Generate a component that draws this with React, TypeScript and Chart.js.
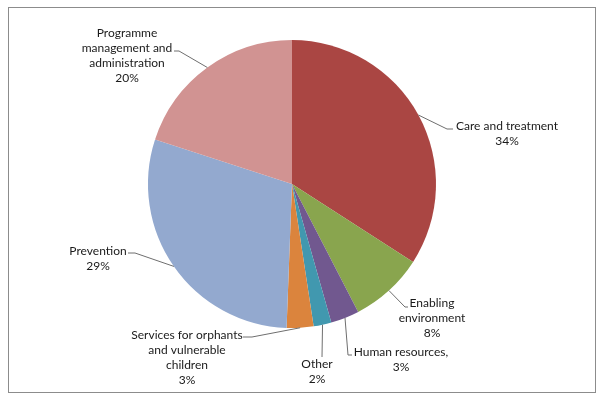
import React, { useEffect, useRef } from "react";
import { Chart, registerables } from "chart.js";
Chart.register(...registerables);

const categories = [
  "Care and treatment",
  "Enabling environment",
  "Human resources,",
  "Other",
  "Services for orphants and vulnerable children",
  "Prevention",
  "Programme management and administration",
];
const values = [34.1, 8.3, 3.2, 2.0, 3.0, 29.4, 20.0];
const colors = ["#AA4643", "#89A54E", "#71588F", "#4198AF", "#DB843D", "#93A9CF", "#D19392"];
const labelLines = [
  ["Care and treatment"],
  ["Enabling", "environment"],
  ["Human resources,"],
  ["Other"],
  ["Services for orphants", "and vulnerable", "children"],
  ["Prevention"],
  ["Programme", "management and", "administration"],
];

// label layout (canvas px): text center x, first line y, leader points after the arc anchor
const labelLayout = [
  { x: 507, y: 126, pts: [[447, 129], [453, 129]] },
  { x: 432, y: 303, pts: [[405, 307], [408, 307]] },
  { x: 401, y: 352, pts: [[348, 355], [352, 355]] },
  { x: 317, y: 364, pts: [[322, 357]] },
  { x: 187, y: 335, pts: [[252, 337], [243, 337]] },
  { x: 98, y: 251, pts: [[135, 253], [128, 253]] },
  { x: 127, y: 33, pts: [[179, 51], [174, 51]] },
];

const FONT = "12px Lato, 'Open Sans', sans-serif";
const LINE_H = 15;

const labelPlugin = {
  id: "pieLabels",
  afterDraw(chart: any) {
    const ctx = chart.ctx;
    const meta = chart.getDatasetMeta(0);
    ctx.save();
    // frame
    ctx.strokeStyle = "#8c8c8c";
    ctx.lineWidth = 1;
    ctx.strokeRect(8.5, 7.5, 587, 385);
    meta.data.forEach((arc: any, i: number) => {
      const p = arc.getProps(["x", "y", "startAngle", "endAngle", "outerRadius"], true);
      const mid = (p.startAngle + p.endAngle) / 2;
      const ax = p.x + Math.cos(mid) * p.outerRadius;
      const ay = p.y + Math.sin(mid) * p.outerRadius;
      const lay = labelLayout[i];
      ctx.strokeStyle = "#6e6e6e";
      ctx.lineWidth = 1;
      ctx.beginPath();
      ctx.moveTo(ax, ay);
      lay.pts.forEach((pt) => ctx.lineTo(pt[0], pt[1]));
      ctx.stroke();
      const lines = [...labelLines[i], Math.round(values[i]) + "%"];
      ctx.fillStyle = "#1a1a1a";
      ctx.font = FONT;
      ctx.textAlign = "center";
      ctx.textBaseline = "middle";
      lines.forEach((t, k) => ctx.fillText(t, lay.x, lay.y + k * LINE_H));
    });
    ctx.restore();
  },
};

export default function App() {
  const ref = useRef<HTMLCanvasElement | null>(null);
  useEffect(() => {
    if (!ref.current) return;
    const chart = new Chart(ref.current, {
      type: "pie",
      data: {
        labels: categories,
        datasets: [
          {
            data: values,
            backgroundColor: colors,
            borderWidth: 0,
          },
        ],
      },
      options: {
        responsive: false,
        animation: false,
        devicePixelRatio: 1,
        layout: { padding: { left: 148, right: 164, top: 40, bottom: 72 } },
        plugins: {
          legend: { display: false },
          tooltip: { enabled: false },
        },
      },
      plugins: [labelPlugin],
    });
    return () => chart.destroy();
  }, []);
  return (
    <div style={{ position: "absolute", left: 0, top: 0, width: 600, height: 400, background: "#fff" }}>
      <canvas ref={ref} width={600} height={400} />
    </div>
  );
}
